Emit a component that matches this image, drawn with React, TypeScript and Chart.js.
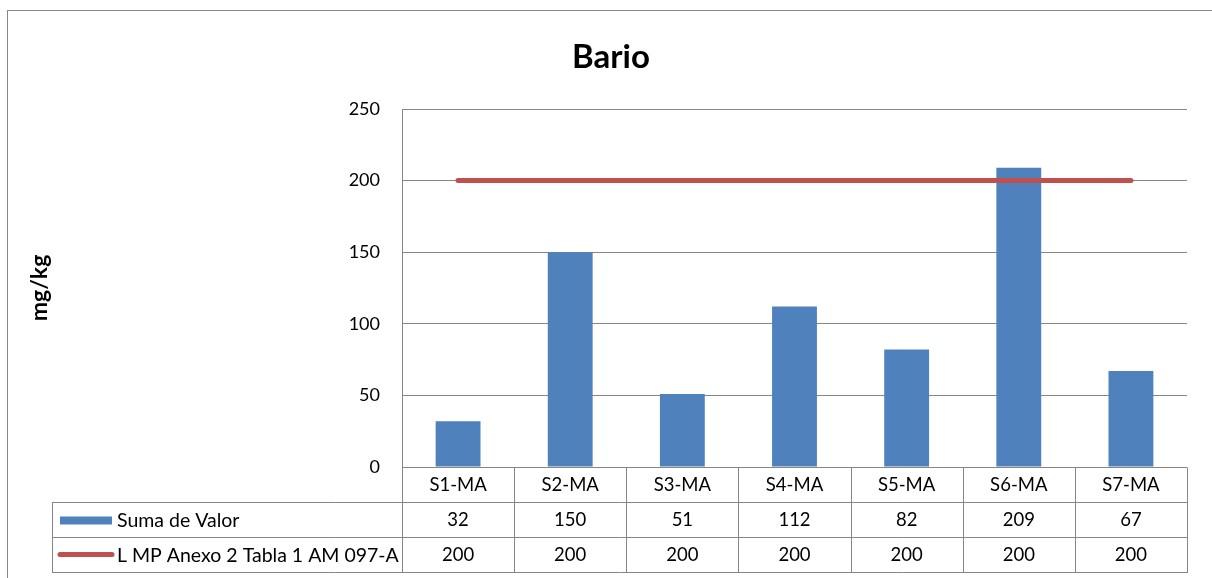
import React, { useEffect, useRef } from "react";
import { Chart, registerables } from "chart.js";

Chart.register(...registerables);

const categories = ["S1-MA", "S2-MA", "S3-MA", "S4-MA", "S5-MA", "S6-MA", "S7-MA"];
const sumaValues = [32, 150, 51, 112, 82, 209, 67];
const limitValues = [200, 200, 200, 200, 200, 200, 200];
const yTicks = [0, 50, 100, 150, 200, 250];
const seriesNames = ["Suma de Valor", "L MP Anexo 2 Tabla 1 AM 097-A"];
const chartTitle = "Bario";
const yAxisTitle = "mg/kg";

const BLUE = "#4F81BD";
const RED = "#C0504D";
const GRID = "#868686";
const FONT = "Lato, 'Open Sans', sans-serif";

const tablePlugin = {
  id: "dataTablePlugin",
  afterDraw(chart: any) {
    const { ctx, chartArea } = chart;
    const xs = chart.scales.x;
    const left = chartArea.left;
    const right = chartArea.right;
    const y0 = chartArea.bottom;
    const rowH = 35;
    const legendLeft = 44;
    const n = categories.length;
    const catW = (right - left) / n;
    const px = (v: number) => Math.round(v) + 0.5;

    ctx.save();
    // title
    ctx.fillStyle = "#000";
    ctx.font = `bold 33px ${FONT}`;
    ctx.textAlign = "center";
    ctx.textBaseline = "middle";
    ctx.fillText(chartTitle, chart.width / 2 - 2, 46);

    ctx.strokeStyle = GRID;
    ctx.lineWidth = 1;
    const hl = (x1: number, x2: number, y: number) => {
      ctx.beginPath();
      ctx.moveTo(x1, px(y));
      ctx.lineTo(x2, px(y));
      ctx.stroke();
    };
    const vl = (x: number, y1: number, y2: number) => {
      ctx.beginPath();
      ctx.moveTo(px(x), y1);
      ctx.lineTo(px(x), y2);
      ctx.stroke();
    };
    hl(left, right, y0);
    hl(legendLeft, right, y0 + rowH);
    hl(legendLeft, right, y0 + 2 * rowH);
    hl(legendLeft, right, y0 + 3 * rowH);
    vl(legendLeft, px(y0 + rowH), px(y0 + 3 * rowH) + 0.5);
    for (let i = 0; i < n; i++) {
      const c = xs.getPixelForValue(i);
      vl(c - catW / 2, px(y0), px(y0 + 3 * rowH) + 0.5);
    }
    vl(right, px(y0), px(y0 + 3 * rowH) + 0.5);

    // cell texts
    ctx.fillStyle = "#000";
    ctx.font = `18.5px ${FONT}`;
    ctx.textAlign = "center";
    ctx.textBaseline = "middle";
    for (let i = 0; i < n; i++) {
      const c = xs.getPixelForValue(i);
      ctx.fillText(categories[i], c, y0 + rowH / 2 + 1);
      ctx.fillText(String(sumaValues[i]), c, y0 + rowH * 1.5 + 1);
      ctx.fillText(String(limitValues[i]), c, y0 + rowH * 2.5 + 1);
    }

    // legend keys
    ctx.fillStyle = BLUE;
    ctx.fillRect(52, y0 + rowH * 1.5 - 3, 52, 8);
    ctx.strokeStyle = RED;
    ctx.lineWidth = 5;
    ctx.lineCap = "round";
    ctx.beginPath();
    ctx.moveTo(52, y0 + rowH * 2.5);
    ctx.lineTo(104, y0 + rowH * 2.5);
    ctx.stroke();

    ctx.fillStyle = "#000";
    ctx.textAlign = "left";
    ctx.font = `19.5px ${FONT}`;
    ctx.fillText(seriesNames[0], 109, y0 + rowH * 1.5 + 1);
    ctx.fillText(seriesNames[1], 109, y0 + rowH * 2.5 + 1);
    ctx.restore();
  },
};

export default function App() {
  const ref = useRef<HTMLCanvasElement | null>(null);

  useEffect(() => {
    if (!ref.current) return;
    const chart = new Chart(ref.current, {
      type: "bar",
      data: {
        labels: categories,
        datasets: [
          {
            type: "line",
            label: seriesNames[1],
            data: limitValues,
            borderColor: RED,
            backgroundColor: RED,
            borderWidth: 5,
            pointRadius: 0,
            borderCapStyle: "round",
            order: 0,
          } as any,
          {
            type: "bar",
            label: seriesNames[0],
            data: sumaValues,
            backgroundColor: BLUE,
            barPercentage: 0.4,
            categoryPercentage: 1.0,
            order: 1,
          },
        ],
      },
      options: {
        responsive: false,
        animation: false,
        layout: { padding: { left: 0, right: 31, top: 98, bottom: 114 } },
        plugins: {
          legend: { display: false },
          title: { display: false },
          tooltip: { enabled: false },
        },
        scales: {
          x: { display: false, offset: true },
          y: {
            min: 0,
            max: 250,
            afterBuildTicks: (scale: any) => {
              scale.ticks = yTicks.map((v) => ({ value: v }));
            },
            afterFit: (scale: any) => {
              scale.width = 394;
            },
            grid: { color: GRID, lineWidth: 1, drawTicks: false },
            border: { display: true, color: GRID, width: 1 },
            ticks: {
              padding: 22,
              color: "#000",
              font: { family: FONT, size: 18 },
            },
            title: {
              display: true,
              text: yAxisTitle,
              color: "#000",
              font: { family: FONT, size: 23, weight: "bold" },
              padding: { top: 18, bottom: 0 },
            },
          },
        },
      },
      plugins: [tablePlugin],
    });
    return () => chart.destroy();
  }, []);

  return (
    <div
      style={{
        position: "fixed",
        left: 7,
        top: 10,
        width: 1210,
        height: 570,
        borderLeft: `1px solid ${GRID}`,
        borderTop: `1px solid ${GRID}`,
        background: "#fff",
      }}
    >
      <canvas ref={ref} width={1210} height={570} style={{ display: "block" }} />
    </div>
  );
}
